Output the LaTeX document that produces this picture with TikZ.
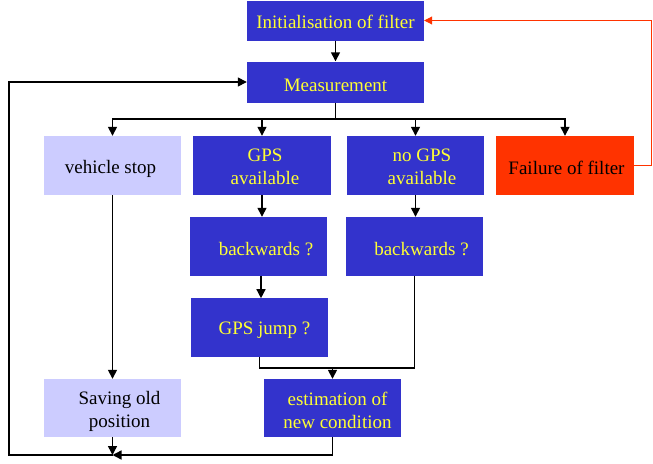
\documentclass[tikz,border=0pt]{standalone}
\usepackage{fontspec}
\setmainfont{Liberation Serif}
\usetikzlibrary{arrows.meta}
\definecolor{boxblue}{HTML}{3333CC}
\definecolor{boxlight}{HTML}{CCCCFF}
\definecolor{boxred}{HTML}{FF3300}
\definecolor{txtyellow}{HTML}{FFFF33}
\definecolor{linered}{HTML}{FF3300}
\tikzset{
  base/.style={inner sep=0pt},
  bluebox/.style={base, fill=boxblue},
  lightbox/.style={base, fill=boxlight},
  redbox/.style={base, fill=boxred},
  txt/.style={inner sep=0pt, align=center, font=\fontsize{19}{23}\selectfont},
  ytxt/.style={txt, text=txtyellow},
  ktxt/.style={txt, text=black},
  conn/.style={line width=1.4pt, -{Triangle[length=9pt,width=9pt]}},
  plain/.style={line width=1.4pt},
  redconn/.style={draw=linered, line width=0.9pt, -{Triangle[length=8pt,width=8pt]}}
}
\begin{document}
\begin{tikzpicture}[x=1pt,y=-1pt]
\useasboundingbox (0,0) rectangle (653,463);
% boxes
\node[bluebox, minimum width=177pt, minimum height=40pt] (init) at (335.5,20.5) {};
\node[bluebox, minimum width=177pt, minimum height=41pt] (meas) at (335.5,82) {};
\node[lightbox, minimum width=137pt, minimum height=59pt] (vstop) at (112.5,165.5) {};
\node[bluebox, minimum width=138pt, minimum height=59pt] (gps) at (262,165.5) {};
\node[bluebox, minimum width=137pt, minimum height=59pt] (nogps) at (415.5,165.5) {};
\node[redbox, minimum width=138pt, minimum height=59pt] (fail) at (565,165.5) {};
\node[bluebox, minimum width=137pt, minimum height=59pt] (bw1) at (258.5,246.5) {};
\node[bluebox, minimum width=137pt, minimum height=59pt] (bw2) at (414.5,246.5) {};
\node[bluebox, minimum width=137pt, minimum height=59pt] (jump) at (259.5,327.5) {};
\node[lightbox, minimum width=137pt, minimum height=58pt] (save) at (112.5,408) {};
\node[bluebox, minimum width=137pt, minimum height=58pt] (est) at (332.5,408) {};
% texts
\node[ytxt] (init-t) at ([shift={(0,1)}]init.center) {Initialisation of filter};
\node[ytxt] (meas-t) at ([shift={(0,3)}]meas.center) {Measurement};
\node[ktxt] (vstop-t) at ([shift={(-2,3.5)}]vstop.center) {vehicle stop};
\node[ytxt] (gps-t) at ([shift={(3,1)}]gps.center) {GPS\\available};
\node[ytxt] (nogps-t) at ([shift={(6.5,1)}]nogps.center) {no GPS\\available};
\node[ktxt] (fail-t) at ([shift={(1.5,2.5)}]fail.center) {Failure of filter};
\node[ytxt] (bw1-t) at ([shift={(7.5,3)}]bw1.center) {backwards ?};
\node[ytxt] (bw2-t) at ([shift={(7,3)}]bw2.center) {backwards ?};
\node[ytxt] (jump-t) at ([shift={(5,3)}]jump.center) {GPS jump ?};
\node[ktxt] (save-t) at ([shift={(7,3)}]save.center) {Saving old\\position};
\node[ytxt] (est-t) at ([shift={(5,2.5)}]est.center) {estimation of\\new condition};
% coordinates
\coordinate (bus) at (335.5,119);
\coordinate (merge) at (332.5,368);
\coordinate (junc) at (112.5,455);
\coordinate (lc) at (9,455);
% connectors
\draw[conn] (init.south) -- (meas.north);
\draw[plain] (meas.south) -- (bus);
\draw[conn] (bus) -| (vstop.north);
\draw[conn] (bus) -| (gps.north);
\draw[conn] (bus) -| (nogps.north);
\draw[conn] (bus) -| (fail.north);
\draw[redconn] (fail.east) -- ++(17,0) |- (init.east);
\draw[conn] (gps.south) -- (gps.south |- bw1.north);
\draw[conn] (bw1.south -| jump.north) ++(1.5,0) -- ++(0,22);
\draw[conn] (nogps.south) -- (nogps.south |- bw2.north);
\draw[conn] (vstop.south) -- (save.north);
\draw[plain] (jump.south) |- (merge);
\draw[plain] (bw2.south) |- (merge);
\draw[conn] (merge) -- (est.north);
\draw[conn] (save.south) -- (junc);
\draw[conn] (est.south) |- (junc);
\draw[conn] (junc) -- (lc) |- (meas.west);
\end{tikzpicture}
\end{document}
